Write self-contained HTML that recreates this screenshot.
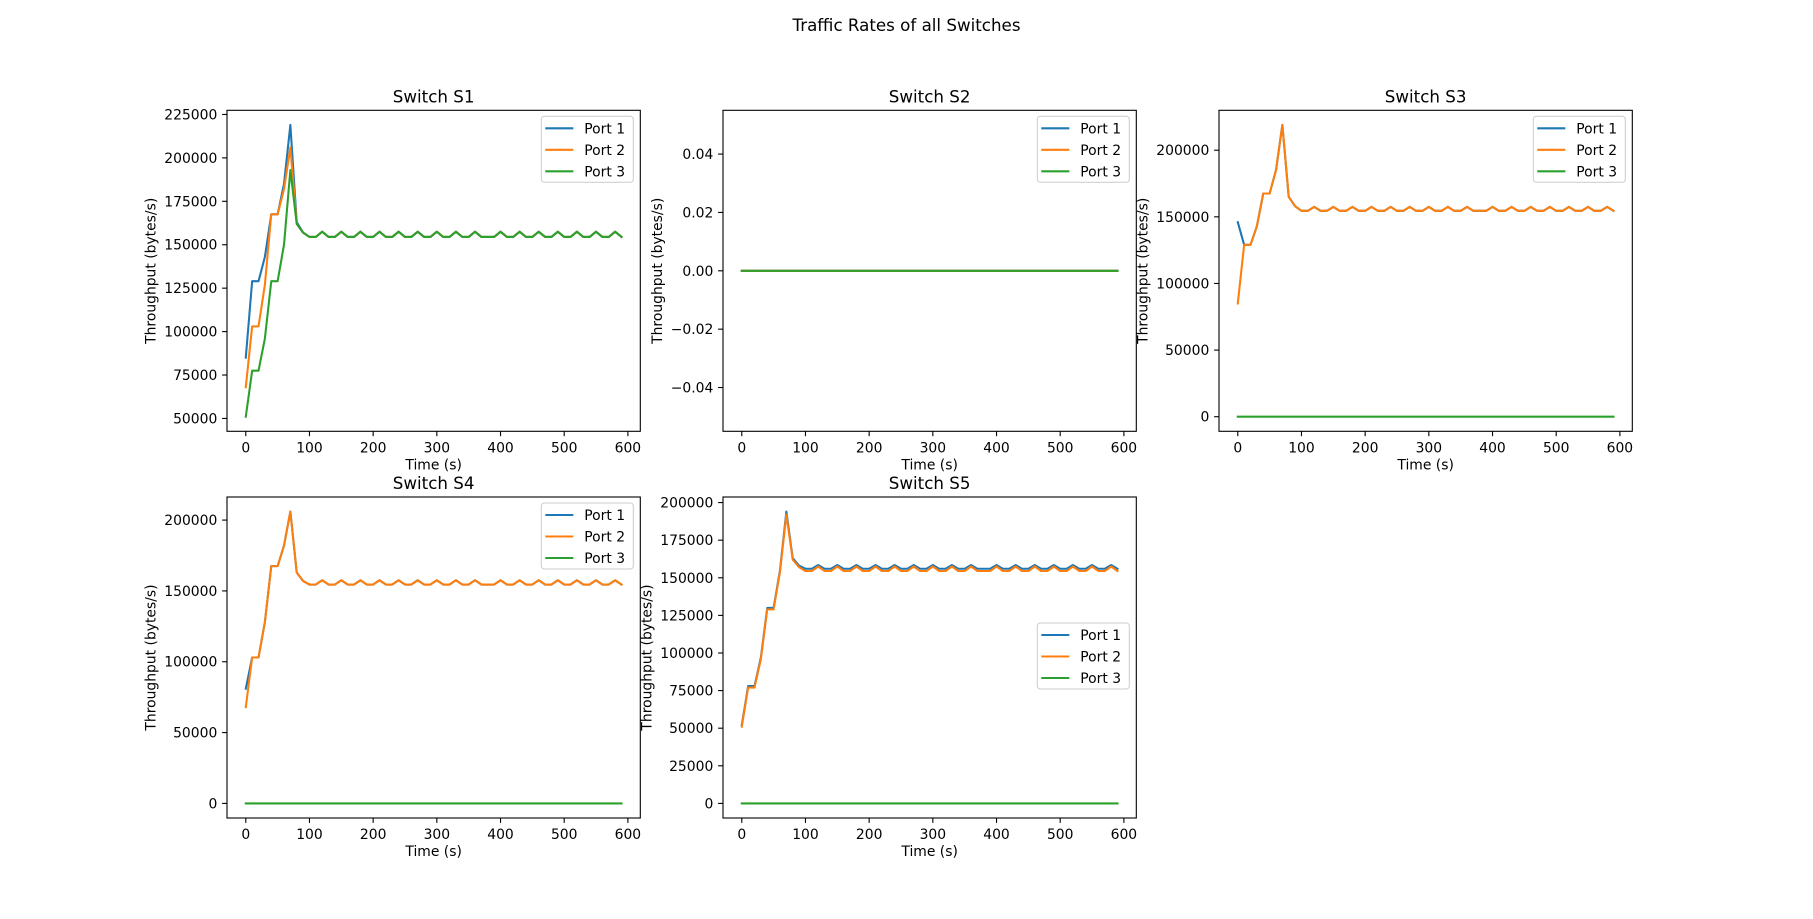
<!DOCTYPE html>
<html><head><meta charset="utf-8">
<style>
html,body{margin:0;padding:0;background:#fff;}
svg{display:block;font-family:"DejaVu Sans","Liberation Sans",sans-serif;}
</style></head>
<body>
<svg id="fig" width="1813" height="919" viewBox="0 0 1813 919" xmlns="http://www.w3.org/2000/svg">
<text x="906.5" y="31" font-size="16.7" text-anchor="middle">Traffic Rates of all Switches</text>
</svg>
<script>
// time axis (seconds)
const times = [0,10,20,30,40,50,60,70,80,90,100,110,120,130,140,150,160,170,180,190,200,210,220,230,240,250,260,270,280,290,300,310,320,330,340,350,360,370,380,390,400,410,420,430,440,450,460,470,480,490,500,510,520,530,540,550,560,570,580,590];
// throughput values in thousands of bytes/s
const steadyA = [154.5,154.5,157.5,154.5,154.5,157.5,154.5,154.5,157.5,154.5,154.5,157.5,154.5,154.5,157.5,154.5,154.5,157.5,154.5,154.5,157.5,154.5,154.5,157.5,154.5,154.5,157.5,154.5,154.5,154.5,157.5,154.5,154.5,157.5,154.5,154.5,157.5,154.5,154.5,157.5,154.5,154.5,157.5,154.5,154.5,157.5,154.5,154.5,157.5,154.5];
const steadyB = [156,156,158.5,156,156,158.5,156,156,158.5,156,156,158.5,156,156,158.5,156,156,158.5,156,156,158.5,156,156,158.5,156,156,158.5,156,156,156,158.5,156,156,158.5,156,156,158.5,156,156,158.5,156,156,158.5,156,156,158.5,156,156,158.5,156];
const zeros = [0,0,0,0,0,0,0,0,0,0,0,0,0,0,0,0,0,0,0,0,0,0,0,0,0,0,0,0,0,0,0,0,0,0,0,0,0,0,0,0,0,0,0,0,0,0,0,0,0,0,0,0,0,0,0,0,0,0,0,0];
const s1p1Start = [85,129,129,143,167.5,167.5,185,219,163,157];
const s1p2Start = [68,103,103,127,167.5,167.5,182,206,162,157];
const s1p3Start = [51,77.5,77.5,96,129,129,150,193,162,157];
const s3p1Start = [146,129,129,143,167.5,167.5,185,219,165,158];
const s3p2Start = [85,129,129,143,167.5,167.5,185,219,165,158];
const s4p1Start = [81,103,103,128,167.5,167.5,182,206,163,157];
const s4p2Start = [68,103,103,128,167.5,167.5,182,206,163,157];
const s5p1Start = [52,78,78,97,130,130,155,194,163,158];
const s5p2Start = [51,77,77,96,129,129,154,192,162,157];
const UNIT = 1000;
const xTicks = [0,100,200,300,400,500,600];
const yTicksS1 = [50000,75000,100000,125000,150000,175000,200000,225000];
const yTicksS2 = [-0.04,-0.02,0,0.02,0.04];
const yTicksS3 = [0,50000,100000,150000,200000];
const yTicksS4 = [0,50000,100000,150000,200000];
const yTicksS5 = [0,25000,50000,75000,100000,125000,150000,175000,200000];
const portNames = ["Port 1","Port 2","Port 3"];
const colors = ["#1f77b4","#ff7f0e","#2ca02c"];

const NS = "http://www.w3.org/2000/svg";
const fig = document.getElementById('fig');
function mk(tag, attrs, parent){const e=document.createElementNS(NS,tag);for(const k in attrs)e.setAttribute(k,attrs[k]);(parent||fig).appendChild(e);return e;}
function scaleK(arr){return arr.map(v=>v*UNIT);}

const W=413.3, H=321;
const panels = [
 {id:"s1",title:"Switch S1",x:227,y:110.3,series:[scaleK(s1p1Start.concat(steadyA)),scaleK(s1p2Start.concat(steadyA)),scaleK(s1p3Start.concat(steadyA))],yTicks:yTicksS1,fmt:v=>String(v),legend:"top"},
 {id:"s2",title:"Switch S2",x:723,y:110.3,series:[zeros,zeros,zeros],yTicks:yTicksS2,ylim:[-0.055,0.055],fmt:v=>(v<0?"\u2212":"")+Math.abs(v).toFixed(2),legend:"top"},
 {id:"s3",title:"Switch S3",x:1219,y:110.3,series:[scaleK(s3p1Start.concat(steadyA)),scaleK(s3p2Start.concat(steadyA)),zeros],yTicks:yTicksS3,fmt:v=>String(v),legend:"top"},
 {id:"s4",title:"Switch S4",x:227,y:497,series:[scaleK(s4p1Start.concat(steadyA)),scaleK(s4p2Start.concat(steadyA)),zeros],yTicks:yTicksS4,fmt:v=>String(v),legend:"top"},
 {id:"s5",title:"Switch S5",x:723,y:497,series:[scaleK(s5p1Start.concat(steadyB)),scaleK(s5p2Start.concat(steadyA)),zeros],yTicks:yTicksS5,fmt:v=>String(v),legend:"mid"}
];

panels.forEach(p=>{
  const g = mk('g',{});
  
  
  const xmin=Math.min(...times), xmax=Math.max(...times), xm=(xmax-xmin)*0.05;
  const x0=xmin-xm, x1=xmax+xm;
  let y0,y1;
  if(p.ylim){[y0,y1]=p.ylim;}else{
    let mn=Infinity,mx=-Infinity;p.series.forEach(s=>s.forEach(v=>{mn=Math.min(mn,v);mx=Math.max(mx,v);}));
    const m=(mx-mn)*0.05;y0=mn-m;y1=mx+m;}
  const sx=v=>p.x+(v-x0)/(x1-x0)*W;
  const sy=v=>p.y+H-(v-y0)/(y1-y0)*H;
  const bottom=p.y+H;
  p.series.forEach((s,i)=>{
    const d=s.map((v,k)=>(k?'L':'M')+sx(times[k]).toFixed(2)+' '+sy(v).toFixed(2)).join(' ');
    const path=mk('path',{d:d,fill:'none',stroke:colors[i],'stroke-width':2.08,'stroke-linejoin':'round','stroke-linecap':'square'},g);
    
    
  });
  const fr=mk('rect',{x:p.x,y:p.y,width:W,height:H,fill:'none',stroke:'#000','stroke-width':1.1},g);
  
  
  xTicks.forEach(t=>{
    const X=sx(t);
    mk('line',{x1:X,x2:X,y1:bottom,y2:bottom+4.9,stroke:'#000','stroke-width':1.1},g);
    const tx=mk('text',{x:X,y:bottom+21,'font-size':13.9,'text-anchor':'middle'},g);
    tx.textContent=String(t);
    
    
  });
  let maxW=0;
  p.yTicks.forEach(t=>{
    const Y=sy(t);
    mk('line',{x1:p.x-4.9,x2:p.x,y1:Y,y2:Y,stroke:'#000','stroke-width':1.1},g);
    const ty=mk('text',{x:p.x-9.7,y:Y+5,'font-size':13.9,'text-anchor':'end'},g);
    ty.textContent=p.fmt(t);
    
    
    maxW=Math.max(maxW,ty.getComputedTextLength());
  });
  const xl=mk('text',{x:p.x+W/2,y:bottom+38,'font-size':13.9,'text-anchor':'middle'},g);
  xl.textContent='Time (s)';
  
  
  const lx=p.x-9.7-maxW-5.6-3;
  const yl=mk('text',{x:lx,y:p.y+H/2,'font-size':13.9,'text-anchor':'middle',transform:`rotate(-90 ${lx} ${p.y+H/2})`},g);
  yl.textContent='Throughput (bytes/s)';
  
  
  const tt=mk('text',{x:p.x+W/2,y:p.y-8,'font-size':16.7,'text-anchor':'middle'},g);
  tt.textContent=p.title;
  
  
  const lw=92, lh=66;
  const lxp=p.x+W-lw-7, lyp = p.legend==='top' ? p.y+6 : p.y+126;
  const lg=mk('g',{},g);
  
  
  mk('rect',{x:lxp,y:lyp,width:lw,height:lh,rx:3,fill:'#fff','fill-opacity':0.8,stroke:'#ccc','stroke-width':1},lg);
  portNames.forEach((n,i)=>{
    const yy=lyp+12+i*21.5;
    const ln=mk('line',{x1:lxp+4,x2:lxp+32,y1:yy,y2:yy,stroke:colors[i],'stroke-width':2.08},lg);
    
    
    const lt=mk('text',{x:lxp+43,y:yy+5,'font-size':13.9},lg);
    lt.textContent=n;
    
    
  });
});
</script>
</body></html>
